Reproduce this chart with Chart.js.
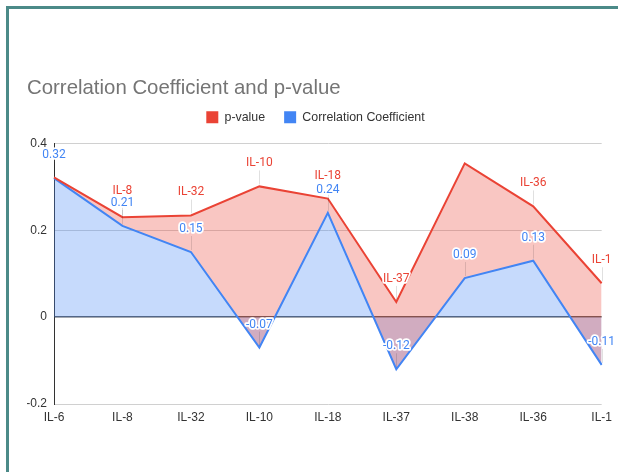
<!DOCTYPE html>
<html>
<head>
<meta charset="utf-8">
<script src="https://cdn.jsdelivr.net/npm/chart.js@4.4.1/dist/chart.umd.min.js"></script>
<style>
  html, body { margin: 0; padding: 0; background: #fff; width: 618px; height: 472px; overflow: hidden; }
  #frame {
    position: absolute; left: 6px; top: 6px; width: 700px; height: 600px;
    border-left: 3px solid #4b8a88; border-top: 3px solid #4b8a88; box-sizing: border-box;
  }
  #wrap { position: absolute; left: 0; top: 0; width: 618px; height: 472px; }
</style>
</head>
<body>
<div id="frame"></div>
<div id="wrap"><canvas id="chart" width="618" height="472"></canvas></div>
<script>
// Interleukins along the x axis
const categories = ['IL-6', 'IL-8', 'IL-32', 'IL-10', 'IL-18', 'IL-37', 'IL-38', 'IL-36', 'IL-1'];
// p-value per interleukin
const pValues = [0.322, 0.23, 0.234, 0.301, 0.273, 0.035, 0.354, 0.255, 0.078];
// Correlation coefficient per interleukin
const correlation = [0.32, 0.21, 0.15, -0.07, 0.24, -0.12, 0.09, 0.13, -0.11];
// Annotations shown above the p-value points (blank = not shown)
const pValueLabels = ['', 'IL-8', 'IL-32', 'IL-10', 'IL-18', 'IL-37', '', 'IL-36', 'IL-1'];
// Vertical axis ticks
const yTicks = [-0.2, 0, 0.2, 0.4];

const RED = '#ea4335';
const BLUE = '#4285f4';
const AXIS_FONT = 'Liberation Sans, Arial, sans-serif';

// Annotation text above each point, with a faint stem down to the point.
// A p-value annotation that would collide with the coefficient one is nudged up.
const pointLabels = {
  id: 'pointLabels',
  afterDatasetsDraw(chart) {
    const ctx = chart.ctx;
    const texts = [pValueLabels, correlation.map(v => v.toFixed(2))];
    const offset = 23;
    const redPts = chart.getDatasetMeta(0).data;
    const bluePts = chart.getDatasetMeta(1).data;
    const labelY = [[], []];
    categories.forEach((c, j) => {
      const by = bluePts[j].y - offset;
      let ry = redPts[j].y - offset;
      if (texts[1][j] && ry > by - 12 && ry < by + 12) ry = by - 12;
      labelY[0][j] = ry;
      labelY[1][j] = by;
    });
    ctx.save();
    [redPts, bluePts].forEach((pts, i) => {
      pts.forEach((pt, j) => {
        if (!texts[i][j]) return;
        const x = Math.round(pt.x) + 0.5;
        ctx.strokeStyle = 'rgba(0,0,0,0.12)';
        ctx.lineWidth = 1;
        ctx.beginPath();
        ctx.moveTo(x, pt.y - 2);
        ctx.lineTo(x, labelY[i][j] + 7);
        ctx.stroke();
      });
    });
    ctx.font = '12px Roboto, sans-serif';
    ctx.textAlign = 'center';
    ctx.textBaseline = 'middle';
    ctx.lineJoin = 'round';
    [redPts, bluePts].forEach((pts, i) => {
      const color = chart.data.datasets[i].borderColor;
      pts.forEach((pt, j) => {
        const text = texts[i][j];
        if (!text) return;
        const y = labelY[i][j];
        ctx.strokeStyle = '#ffffff';
        ctx.lineWidth = 3.5;
        ctx.strokeText(text, pt.x, y);
        ctx.fillStyle = color;
        ctx.fillText(text, pt.x, y);
      });
    });
    ctx.restore();
  }
};

new Chart(document.getElementById('chart'), {
  type: 'line',
  data: {
    labels: categories,
    datasets: [
      {
        label: 'p-value',
        data: pValues,
        borderColor: RED,
        backgroundColor: 'rgba(234,67,53,0.3)',
        borderWidth: 2,
        pointRadius: 0,
        tension: 0,
        fill: '+1'
      },
      {
        label: 'Correlation Coefficient',
        data: correlation,
        borderColor: BLUE,
        backgroundColor: 'rgba(66,133,244,0.3)',
        borderWidth: 2,
        pointRadius: 0,
        tension: 0,
        fill: 'origin'
      }
    ]
  },
  options: {
    responsive: false,
    animation: false,
    devicePixelRatio: 1,
    layout: { padding: { top: 84, left: 27, right: 14, bottom: 41.6 } },
    plugins: {
      filler: { drawTime: 'beforeDatasetsDraw' },
      tooltip: { enabled: false },
      title: {
        display: true,
        text: 'Correlation Coefficient and p-value',
        align: 'start',
        color: '#757575',
        font: { family: AXIS_FONT, size: 20.4, weight: 'normal', lineHeight: '8px' },
        padding: { top: 0, bottom: 0 }
      },
      subtitle: {
        // empty spacer between the legend and the plot
        display: true,
        text: '',
        weight: 500,
        font: { size: 1, lineHeight: '10px' },
        padding: 0
      },
      legend: {
        display: true,
        position: 'top',
        labels: {
          boxWidth: 12,
          boxHeight: 12,
          padding: 19,
          color: '#333333',
          font: { family: AXIS_FONT, size: 12.4 },
          generateLabels(chart) {
            return Chart.defaults.plugins.legend.labels.generateLabels(chart).map(item => {
              item.fillStyle = item.strokeStyle;
              item.lineWidth = 0;
              return item;
            });
          }
        }
      }
    },
    scales: {
      x: {
        grid: { display: false, drawTicks: false },
        border: { display: false },
        ticks: {
          color: '#333333',
          font: { family: AXIS_FONT, size: 12 },
          padding: 6,
          maxRotation: 0,
          autoSkip: false
        }
      },
      y: {
        min: yTicks[0],
        max: yTicks[yTicks.length - 1],
        afterBuildTicks(scale) {
          scale.ticks = yTicks.map(v => ({ value: v }));
        },
        afterFit(scale) {
          scale.width = 27;
        },
        grid: {
          drawTicks: false,
          color: ctx => (Math.abs(ctx.tick.value) < 1e-9 ? '#5a5a5a' : '#d0d0d0'),
          lineWidth: ctx => (Math.abs(ctx.tick.value) < 1e-9 ? 1.5 : 1)
        },
        border: { display: true, color: '#333333', width: 1 },
        ticks: {
          color: '#333333',
          font: { family: AXIS_FONT, size: 12 },
          padding: 7,
          callback: v => String(Math.round(v * 10) / 10)
        }
      }
    }
  },
  plugins: [pointLabels]
});
</script>
</body>
</html>
